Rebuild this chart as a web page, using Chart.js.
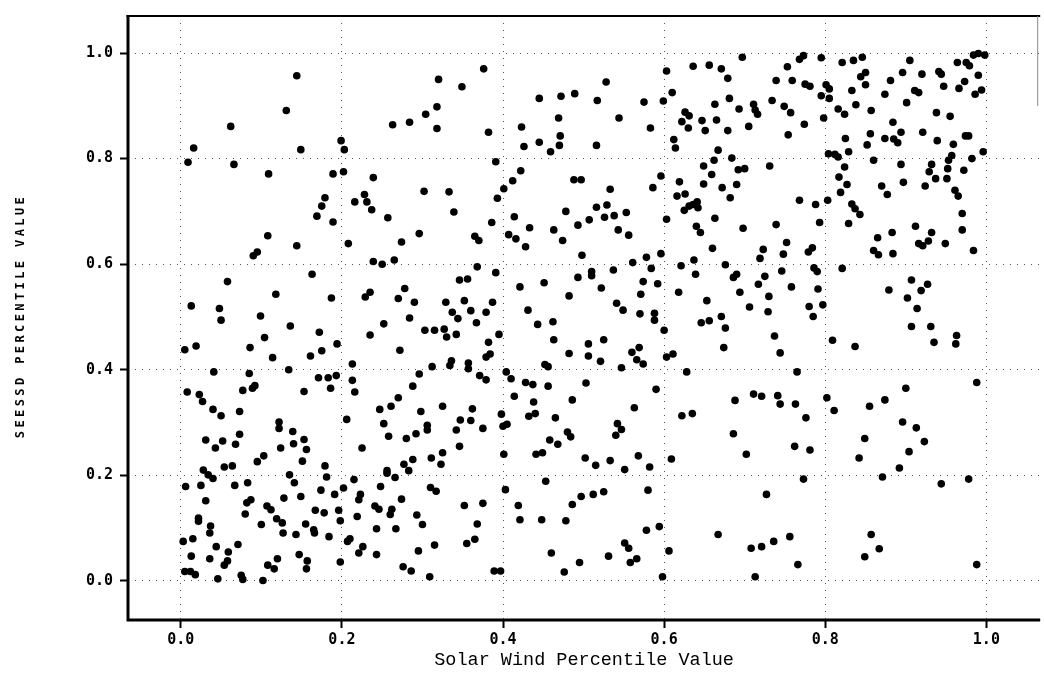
<!DOCTYPE html>
<html>
<head>
<meta charset="utf-8">
<script src="https://cdn.jsdelivr.net/npm/chart.js@4.4.1/dist/chart.umd.min.js"></script>
<style>
  body { margin: 0; background: #fff; }
  canvas { display: block; }
</style>
</head>
<body>
<canvas id="chart" width="1044" height="679"></canvas>
<script>
const tickValues = [0, 0.2, 0.4, 0.6, 0.8, 1.0];
const tickLabels = ['0.0', '0.2', '0.4', '0.6', '0.8', '1.0'];
const xTitle = 'Solar Wind Percentile Value';
const yTitle = 'SEESSD PERCENTILE VALUE';

// [solar wind percentile, SEESSD percentile]
const topBand1 = [[0.144,0.957],[0.131,0.891],[0.062,0.861],[0.016,0.820],[0.009,0.793],[0.066,0.789],[0.149,0.817],[0.109,0.771],[0.189,0.771],[0.179,0.726],[0.175,0.710],[0.169,0.691],[0.189,0.680],[0.108,0.654],[0.144,0.635],[0.095,0.623],[0.090,0.616]];
const topBand2 = [[0.376,0.970],[0.320,0.950],[0.349,0.936],[0.318,0.898],[0.304,0.884],[0.284,0.869],[0.263,0.864],[0.318,0.857],[0.382,0.850],[0.199,0.834],[0.203,0.817],[0.391,0.794],[0.445,0.914],[0.472,0.918],[0.489,0.923],[0.469,0.877],[0.423,0.860],[0.471,0.843],[0.445,0.831],[0.426,0.823],[0.470,0.825],[0.459,0.813],[0.202,0.775],[0.239,0.764],[0.228,0.732],[0.216,0.718],[0.231,0.718],[0.237,0.703],[0.257,0.688],[0.208,0.639],[0.302,0.738],[0.333,0.737],[0.339,0.699],[0.296,0.658],[0.274,0.642],[0.239,0.605],[0.265,0.608],[0.365,0.653],[0.370,0.645],[0.386,0.679],[0.393,0.725],[0.401,0.743],[0.412,0.758],[0.422,0.777],[0.488,0.760],[0.497,0.760],[0.478,0.700],[0.414,0.690],[0.493,0.674],[0.433,0.669],[0.463,0.665],[0.407,0.656],[0.416,0.648],[0.474,0.645],[0.428,0.633],[0.498,0.617]];
const topBand3 = [[0.528,0.945],[0.517,0.910],[0.544,0.877],[0.575,0.907],[0.583,0.858],[0.516,0.825],[0.599,0.909],[0.603,0.966],[0.610,0.925],[0.636,0.975],[0.656,0.977],[0.671,0.970],[0.679,0.952],[0.697,0.992],[0.681,0.914],[0.663,0.903],[0.693,0.894],[0.626,0.888],[0.631,0.881],[0.622,0.870],[0.630,0.858],[0.647,0.872],[0.651,0.853],[0.665,0.873],[0.679,0.853],[0.705,0.861],[0.711,0.903],[0.713,0.892],[0.716,0.884],[0.734,0.910],[0.739,0.948],[0.753,0.974],[0.759,0.948],[0.768,0.988],[0.773,0.995],[0.795,0.991],[0.775,0.941],[0.781,0.937],[0.749,0.899],[0.757,0.887],[0.774,0.865],[0.754,0.845],[0.798,0.877],[0.801,0.940],[0.795,0.919],[0.612,0.836],[0.614,0.820],[0.667,0.816],[0.662,0.797],[0.684,0.801],[0.649,0.786],[0.659,0.770],[0.692,0.779],[0.700,0.781],[0.731,0.786],[0.533,0.742],[0.596,0.767],[0.586,0.745],[0.619,0.756],[0.616,0.729],[0.626,0.733],[0.649,0.752],[0.672,0.745],[0.690,0.751],[0.682,0.726],[0.625,0.702],[0.631,0.710],[0.636,0.713],[0.641,0.718],[0.642,0.707],[0.516,0.708],[0.529,0.712],[0.526,0.689],[0.538,0.692],[0.553,0.698],[0.507,0.684],[0.543,0.665],[0.556,0.655],[0.603,0.685],[0.640,0.672],[0.645,0.660],[0.663,0.687],[0.698,0.668],[0.739,0.675],[0.768,0.721],[0.788,0.713],[0.793,0.679],[0.752,0.641],[0.748,0.619],[0.779,0.623],[0.784,0.631],[0.723,0.628],[0.719,0.611],[0.660,0.630],[0.637,0.608],[0.596,0.620],[0.578,0.613],[0.561,0.603]];
const topBand4 = [[0.821,0.982],[0.835,0.986],[0.846,0.992],[0.905,0.986],[0.964,0.982],[0.975,0.982],[0.979,0.976],[0.984,0.996],[0.990,0.999],[0.998,0.996],[0.850,0.963],[0.844,0.955],[0.850,0.940],[0.805,0.932],[0.805,0.914],[0.833,0.929],[0.816,0.894],[0.824,0.884],[0.838,0.902],[0.857,0.891],[0.881,0.948],[0.896,0.963],[0.874,0.922],[0.901,0.906],[0.911,0.929],[0.916,0.925],[0.920,0.960],[0.941,0.965],[0.944,0.960],[0.947,0.937],[0.938,0.887],[0.955,0.880],[0.966,0.933],[0.973,0.946],[0.990,0.958],[0.986,0.922],[0.994,0.930],[0.884,0.869],[0.894,0.850],[0.856,0.847],[0.874,0.838],[0.885,0.837],[0.890,0.830],[0.852,0.826],[0.825,0.838],[0.829,0.813],[0.921,0.850],[0.939,0.834],[0.959,0.827],[0.974,0.843],[0.978,0.843],[0.996,0.813],[0.982,0.800],[0.804,0.809],[0.812,0.808],[0.816,0.803],[0.860,0.797],[0.894,0.789],[0.932,0.789],[0.929,0.775],[0.953,0.797],[0.957,0.806],[0.952,0.781],[0.972,0.778],[0.824,0.784],[0.817,0.765],[0.827,0.751],[0.819,0.736],[0.803,0.721],[0.937,0.762],[0.951,0.762],[0.924,0.748],[0.897,0.755],[0.870,0.748],[0.877,0.732],[0.961,0.740],[0.965,0.729],[0.833,0.714],[0.837,0.705],[0.843,0.694],[0.829,0.677],[0.970,0.696],[0.970,0.665],[0.912,0.672],[0.932,0.660],[0.883,0.660],[0.865,0.650],[0.916,0.639],[0.928,0.644],[0.921,0.635],[0.949,0.639],[0.984,0.626],[0.860,0.626],[0.866,0.618],[0.884,0.620]];
const midBand1 = [[0.163,0.581],[0.058,0.567],[0.118,0.543],[0.187,0.536],[0.013,0.521],[0.048,0.516],[0.050,0.494],[0.099,0.502],[0.136,0.483],[0.172,0.471],[0.104,0.461],[0.194,0.449],[0.175,0.436],[0.161,0.426],[0.005,0.438],[0.019,0.445],[0.086,0.442],[0.114,0.423],[0.041,0.396],[0.085,0.393],[0.134,0.400],[0.171,0.385],[0.183,0.385],[0.193,0.389],[0.186,0.365],[0.153,0.359],[0.008,0.358],[0.023,0.353],[0.027,0.340],[0.077,0.361],[0.089,0.365],[0.092,0.370],[0.040,0.325],[0.050,0.313],[0.073,0.321],[0.122,0.301],[0.122,0.289],[0.139,0.283],[0.073,0.278],[0.031,0.267],[0.052,0.265],[0.043,0.252],[0.068,0.259],[0.124,0.252],[0.140,0.260],[0.153,0.268],[0.156,0.249],[0.103,0.237],[0.095,0.226],[0.151,0.227],[0.179,0.218],[0.054,0.216],[0.064,0.218],[0.028,0.210]];
const midBand2 = [[0.250,0.600],[0.368,0.595],[0.391,0.584],[0.346,0.570],[0.356,0.572],[0.421,0.557],[0.451,0.565],[0.493,0.575],[0.278,0.554],[0.229,0.538],[0.235,0.547],[0.270,0.535],[0.290,0.528],[0.329,0.528],[0.352,0.531],[0.387,0.528],[0.360,0.512],[0.379,0.509],[0.337,0.509],[0.344,0.497],[0.367,0.489],[0.284,0.498],[0.252,0.487],[0.431,0.513],[0.482,0.540],[0.462,0.491],[0.443,0.486],[0.463,0.457],[0.482,0.431],[0.303,0.475],[0.315,0.475],[0.327,0.477],[0.330,0.462],[0.342,0.467],[0.235,0.466],[0.395,0.467],[0.382,0.452],[0.272,0.437],[0.379,0.424],[0.384,0.430],[0.213,0.411],[0.312,0.406],[0.334,0.408],[0.336,0.417],[0.357,0.413],[0.357,0.402],[0.296,0.392],[0.213,0.380],[0.216,0.358],[0.288,0.369],[0.371,0.389],[0.379,0.381],[0.404,0.396],[0.410,0.383],[0.428,0.376],[0.437,0.372],[0.452,0.410],[0.456,0.406],[0.456,0.369],[0.414,0.350],[0.438,0.339],[0.486,0.343],[0.432,0.312],[0.440,0.317],[0.465,0.309],[0.270,0.347],[0.261,0.331],[0.247,0.325],[0.298,0.321],[0.325,0.331],[0.362,0.326],[0.347,0.305],[0.360,0.304],[0.398,0.316],[0.400,0.293],[0.405,0.297],[0.206,0.306],[0.252,0.298],[0.306,0.295],[0.306,0.286],[0.292,0.279],[0.280,0.270],[0.258,0.274],[0.342,0.286],[0.375,0.289],[0.346,0.255],[0.225,0.252],[0.480,0.282],[0.484,0.273],[0.458,0.267],[0.468,0.259],[0.401,0.240],[0.441,0.240],[0.449,0.243],[0.325,0.243],[0.311,0.233],[0.288,0.230],[0.277,0.221],[0.323,0.221],[0.256,0.209],[0.283,0.209]];
const midBand3 = [[0.621,0.597],[0.676,0.599],[0.510,0.586],[0.510,0.578],[0.537,0.589],[0.584,0.592],[0.639,0.581],[0.686,0.575],[0.690,0.581],[0.725,0.577],[0.746,0.587],[0.786,0.593],[0.790,0.586],[0.522,0.555],[0.574,0.567],[0.592,0.563],[0.571,0.543],[0.618,0.547],[0.653,0.531],[0.694,0.547],[0.717,0.562],[0.730,0.539],[0.758,0.557],[0.791,0.553],[0.541,0.526],[0.549,0.513],[0.570,0.506],[0.588,0.507],[0.588,0.494],[0.706,0.519],[0.729,0.510],[0.780,0.520],[0.797,0.523],[0.785,0.501],[0.671,0.501],[0.646,0.489],[0.656,0.493],[0.676,0.479],[0.600,0.475],[0.737,0.464],[0.674,0.442],[0.744,0.432],[0.506,0.449],[0.525,0.457],[0.506,0.426],[0.521,0.416],[0.560,0.433],[0.569,0.442],[0.566,0.419],[0.574,0.411],[0.547,0.404],[0.603,0.424],[0.611,0.430],[0.628,0.396],[0.765,0.396],[0.503,0.375],[0.590,0.363],[0.688,0.342],[0.711,0.354],[0.721,0.350],[0.741,0.351],[0.744,0.335],[0.763,0.335],[0.563,0.328],[0.622,0.313],[0.635,0.317],[0.776,0.309],[0.542,0.298],[0.547,0.287],[0.540,0.276],[0.686,0.279],[0.502,0.233],[0.515,0.219],[0.533,0.228],[0.568,0.237],[0.551,0.211],[0.582,0.216],[0.609,0.231],[0.702,0.240],[0.762,0.255],[0.781,0.248]];
const midBand4 = [[0.821,0.592],[0.907,0.570],[0.927,0.562],[0.919,0.550],[0.879,0.551],[0.902,0.536],[0.914,0.516],[0.907,0.482],[0.931,0.482],[0.809,0.456],[0.837,0.444],[0.935,0.452],[0.963,0.465],[0.962,0.449],[0.988,0.376],[0.900,0.365],[0.802,0.347],[0.811,0.323],[0.874,0.343],[0.855,0.331],[0.896,0.301],[0.913,0.290],[0.849,0.270],[0.923,0.264],[0.904,0.245],[0.842,0.233],[0.892,0.214]];
const lowBand1 = [[0.034,0.201],[0.040,0.194],[0.135,0.201],[0.141,0.186],[0.181,0.197],[0.006,0.179],[0.025,0.181],[0.067,0.181],[0.083,0.186],[0.031,0.152],[0.082,0.148],[0.087,0.154],[0.128,0.157],[0.149,0.160],[0.174,0.172],[0.191,0.164],[0.107,0.142],[0.112,0.135],[0.167,0.134],[0.178,0.129],[0.080,0.127],[0.022,0.119],[0.022,0.113],[0.100,0.107],[0.119,0.118],[0.126,0.110],[0.155,0.108],[0.165,0.097],[0.166,0.091],[0.037,0.104],[0.036,0.091],[0.127,0.091],[0.143,0.088],[0.184,0.084],[0.003,0.075],[0.015,0.080],[0.044,0.065],[0.071,0.069],[0.059,0.055],[0.058,0.038],[0.054,0.030],[0.013,0.047],[0.036,0.042],[0.120,0.042],[0.108,0.030],[0.116,0.023],[0.147,0.050],[0.157,0.038],[0.156,0.023],[0.005,0.018],[0.012,0.018],[0.018,0.012],[0.046,0.004],[0.075,0.011],[0.077,0.003],[0.102,0.001]];
const lowBand2 = [[0.256,0.204],[0.266,0.196],[0.215,0.192],[0.202,0.176],[0.248,0.179],[0.310,0.177],[0.317,0.170],[0.223,0.164],[0.221,0.154],[0.274,0.155],[0.196,0.134],[0.198,0.114],[0.241,0.142],[0.246,0.136],[0.262,0.136],[0.260,0.126],[0.219,0.122],[0.293,0.125],[0.300,0.107],[0.352,0.143],[0.375,0.147],[0.368,0.108],[0.243,0.099],[0.267,0.099],[0.207,0.075],[0.210,0.080],[0.226,0.065],[0.221,0.053],[0.243,0.050],[0.295,0.057],[0.315,0.068],[0.355,0.071],[0.365,0.079],[0.198,0.036],[0.276,0.027],[0.286,0.019],[0.309,0.008],[0.389,0.019],[0.397,0.019],[0.403,0.173],[0.453,0.189],[0.419,0.143],[0.421,0.116],[0.448,0.116],[0.478,0.114],[0.486,0.145],[0.497,0.160],[0.460,0.053],[0.495,0.035],[0.476,0.017]];
const lowBand3 = [[0.512,0.164],[0.525,0.169],[0.580,0.172],[0.578,0.096],[0.594,0.103],[0.551,0.072],[0.556,0.062],[0.531,0.047],[0.558,0.035],[0.566,0.042],[0.606,0.057],[0.598,0.008],[0.667,0.088],[0.727,0.164],[0.773,0.193],[0.708,0.062],[0.721,0.065],[0.736,0.075],[0.756,0.084],[0.766,0.031],[0.713,0.008]];
const lowBand4 = [[0.871,0.197],[0.944,0.184],[0.978,0.193],[0.857,0.088],[0.867,0.061],[0.849,0.046],[0.988,0.031]];

const allPoints = [].concat(topBand1, topBand2, topBand3, topBand4,
                            midBand1, midBand2, midBand3, midBand4,
                            lowBand1, lowBand2, lowBand3, lowBand4)
  .map(p => ({ x: p[0], y: p[1] }));

const framePlugin = {
  id: 'frame',
  afterDraw(chart) {
    const { ctx, chartArea: a } = chart;
    ctx.save();
    ctx.strokeStyle = '#000';
    ctx.lineWidth = 3;
    ctx.beginPath();
    ctx.moveTo(a.left, a.top - 1);
    ctx.lineTo(a.left, a.bottom + 1.5);
    ctx.moveTo(a.left - 1.5, a.bottom);
    ctx.lineTo(a.right, a.bottom);
    ctx.stroke();
    ctx.lineWidth = 2;
    ctx.beginPath();
    ctx.moveTo(a.left - 1.5, a.top);
    ctx.lineTo(a.right, a.top);
    ctx.stroke();
    // bit of the right frame edge that shows at the top
    ctx.lineWidth = 1;
    ctx.strokeStyle = '#888';
    ctx.beginPath();
    ctx.moveTo(a.right - 2.5, a.top);
    ctx.lineTo(a.right - 2.5, a.top + 90);
    ctx.stroke();

    // rotated y title, spaced out like the original
    ctx.translate(21, (a.top + a.bottom) / 2);
    ctx.rotate(-Math.PI / 2);
    ctx.fillStyle = '#000';
    ctx.font = 'bold 12px "DejaVu Sans Mono"';
    ctx.letterSpacing = '3.4px';
    ctx.textAlign = 'center';
    ctx.textBaseline = 'middle';
    ctx.fillText(yTitle, 2, 0);
    ctx.restore();
  }
};

const tickFont = { family: '"DejaVu Sans Mono", monospace', size: 15, weight: 'bold' };

new Chart(document.getElementById('chart'), {
  type: 'scatter',
  data: {
    datasets: [{
      data: allPoints,
      pointRadius: 3.8,
      pointBackgroundColor: '#000',
      pointBorderWidth: 0,
      pointHoverRadius: 3.8
    }]
  },
  options: {
    responsive: false,
    animation: false,
    devicePixelRatio: 1,
    layout: { padding: { top: 16, right: 0, bottom: 0, left: 0 } },
    plugins: { legend: { display: false }, tooltip: { enabled: false } },
    scales: {
      x: {
        type: 'linear',
        min: -0.0655,
        max: 1.0668,
        afterBuildTicks: s => { s.ticks = tickValues.map(v => ({ value: v })); },
        afterFit: s => { s.height = 59; },
        grid: { color: '#555', lineWidth: 1, tickColor: '#000', tickWidth: 2, tickLength: 8 },
        border: { display: false, dash: [1, 6] },
        ticks: {
          callback: (v, i) => tickLabels[i],
          color: '#000', font: tickFont, padding: 3, maxRotation: 0, autoSkip: false
        },
        title: {
          display: true, text: xTitle, color: '#000', align: 'center',
          font: { family: '"Liberation Mono", monospace', size: 18.5 },
          padding: { top: 0, bottom: 8 }
        }
      },
      y: {
        type: 'linear',
        min: -0.0739,
        max: 1.0701,
        afterBuildTicks: s => { s.ticks = tickValues.map(v => ({ value: v })); },
        afterFit: s => { s.width = 128; },
        grid: { color: '#555', lineWidth: 1, tickColor: '#000', tickWidth: 2, tickLength: 8 },
        border: { display: false, dash: [1, 6] },
        ticks: {
          callback: (v, i) => tickLabels[i],
          color: '#000', font: tickFont, padding: 7, autoSkip: false
        }
      }
    }
  },
  plugins: [framePlugin]
});
</script>
</body>
</html>
